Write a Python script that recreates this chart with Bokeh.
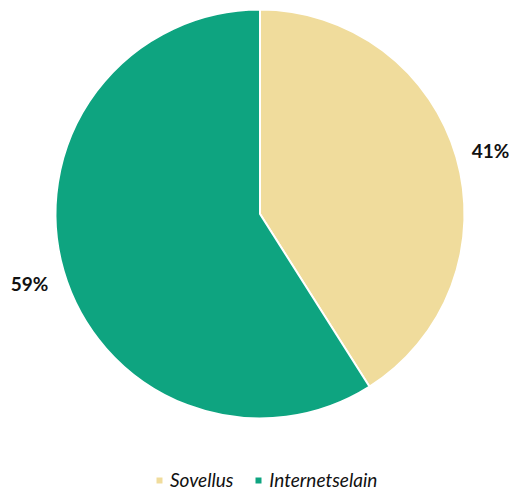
import math
from bokeh.plotting import figure
from bokeh.models import ColumnDataSource, Legend, LegendItem
from bokeh.core.properties import value
from bokeh.embed import file_html
from bokeh.resources import INLINE

categories = ["Sovellus", "Internetselain"]
shares = [41, 59]
colors = ["#F0DC9C", "#0EA480"]

W, H = 509, 492
cx, cy = 259.5, 278.5
R = 204.5
RL = 240

total = sum(shares)
starts, ends, lx, ly, labels = [], [], [], [], []
acc = 0.0
for s in shares:
    a0 = math.pi / 2 - 2 * math.pi * acc / total
    acc += s
    a1 = math.pi / 2 - 2 * math.pi * acc / total
    starts.append(a0)
    ends.append(a1)
    mid = (a0 + a1) / 2
    lx.append(cx + RL * math.cos(mid))
    ly.append(cy + RL * math.sin(mid) - 3)
    labels.append(f"{s}%")

src = ColumnDataSource(dict(cat=categories, start=starts, end=ends, color=colors,
                            x=[cx] * len(shares), y=[cy] * len(shares)))
lsrc = ColumnDataSource(dict(x=lx, y=ly, text=labels))

p = figure(width=W, height=H, output_backend="svg", toolbar_location=None,
           x_range=(0, W), y_range=(0, H), min_border=0)
p.axis.visible = False
p.grid.visible = False
p.outline_line_color = None
p.background_fill_color = "white"
p.border_fill_color = "white"

r = p.wedge(x="x", y="y", radius=R, radius_units="screen", start_angle="start",
            end_angle="end", direction="clock", fill_color="color",
            line_color="white", line_width=2, source=src)

p.text(x="x", y="y", text="text", source=lsrc, text_align="center",
       text_baseline="middle", text_font=value("Lato"), text_font_style="bold",
       text_font_size="19px", text_color="#111111")

items = [LegendItem(label=c, renderers=[r], index=i) for i, c in enumerate(categories)]
legend = Legend(items=items, orientation="horizontal", location=(154, 1),
                border_line_color=None, background_fill_alpha=0,
                label_text_font="Lato", label_text_font_style="italic",
                label_text_font_size="19px", label_text_color="#111111",
                glyph_width=10, glyph_height=10, label_standoff=6, spacing=20,
                padding=0, margin=0, label_height=18)
p.add_layout(legend)

open("out.html", "w").write(file_html(p, INLINE))
